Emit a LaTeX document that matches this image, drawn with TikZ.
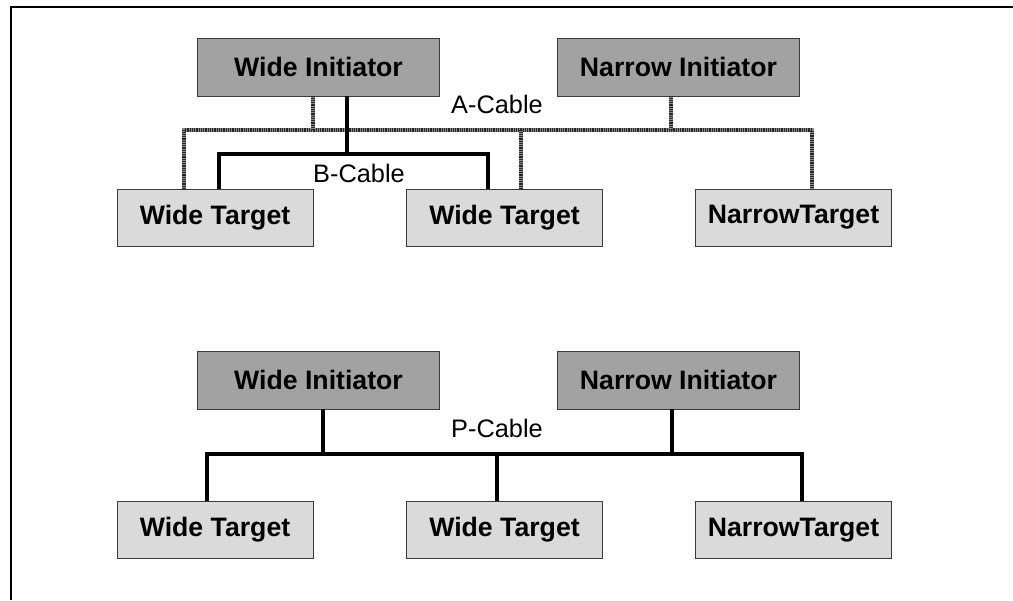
\documentclass[tikz,border=0pt]{standalone}
\usepackage{fontspec}
\setmainfont{Liberation Sans}
\usepackage{tikz}
\usetikzlibrary{calc,positioning}
\definecolor{InitFill}{HTML}{A2A2A2}
\definecolor{TargFill}{HTML}{DADADA}
\definecolor{BoxEdge}{HTML}{3A3A3A}
\tikzset{
  every node/.style={font=\fontsize{19}{22}\selectfont},
  initbox/.style={draw=BoxEdge,line width=0.7pt,fill=InitFill,inner sep=0pt,
    minimum width=182pt,minimum height=43.5pt,font=\fontsize{20}{24}\selectfont\bfseries},
  targbox/.style={draw=BoxEdge,line width=0.7pt,fill=TargFill,inner sep=0pt,
    minimum width=147pt,minimum height=42.75pt,font=\fontsize{20}{24}\selectfont\bfseries},
  acable/.style={line width=3pt,draw=black!45,
    postaction={draw=black!85,line width=3pt,dash pattern=on 0.45pt off 0.9pt}},
  bcable/.style={line width=3pt,draw=black},
}

\begin{document}
\begin{tikzpicture}[x=0.75pt,y=-0.75pt]
  \useasboundingbox (0,0) rectangle (1013,600);
  % --- frame (top and left edges) ---
  \draw[line width=1.4pt] (1013,7) -- (11,7) -- (11,600);
  % --- upper picture: A-cable and B-cable ---
  \node[initbox] (wia) at (318.5,67) {Wide Initiator};
  \node[initbox] (nia) at (678.5,67) {Narrow Initiator};
  \node[targbox] (wta) at (215,217.5) {Wide Target};
  \node[targbox] (wtb) at (504.5,217.5) {Wide Target};
  \node[targbox] (nta) at (793.5,217.5) {NarrowTarget};
  \coordinate (abusL) at (184,130);
  \coordinate (abusR) at (812,130);
  \coordinate (bbus) at (0,154);
  \draw[acable] (wta.north -| abusL) |- (abusR) -- (nta.north -| abusR);
  \draw[acable] ([xshift=-4.5pt]wia.south) -- ([xshift=-4.5pt]wia.south |- abusL);
  \draw[acable] ([xshift=-5.6pt]nia.south) -- ([xshift=-5.6pt]nia.south |- abusL);
  \draw[acable] ([xshift=12.4pt]wtb.north) -- ([xshift=12.4pt]wtb.north |- abusL);
  \draw[bcable] ([xshift=21.4pt]wia.south) -- ([xshift=21.4pt]wia.south |- bbus);
  \draw[bcable] ([xshift=3pt]wta.north) |- ([xshift=-12.4pt]wtb.north |- bbus)
    -- ([xshift=-12.4pt]wtb.north);
  \node (alabel) at (497,104) {A-Cable};
  \node (blabel) at (359,173) {B-Cable};
  % --- lower picture: P-cable ---
  \node[initbox] (wic) at (318.5,380) {Wide Initiator};
  \node[initbox] (nic) at (678.5,380) {Narrow Initiator};
  \node[targbox] (wtc) at (215,530) {Wide Target};
  \node[targbox] (wtd) at (504.5,530) {Wide Target};
  \node[targbox] (ntc) at (793.5,530) {NarrowTarget};
  \coordinate (pbus) at (0,454);
  \draw[bcable] ([xshift=-6pt]wtc.north) |- ([xshift=6.4pt]ntc.north |- pbus)
    -- ([xshift=6.4pt]ntc.north);
  \draw[bcable] ([xshift=3.4pt]wic.south) -- ([xshift=3.4pt]wic.south |- pbus);
  \draw[bcable] ([xshift=-4.9pt]nic.south) -- ([xshift=-4.9pt]nic.south |- pbus);
  \draw[bcable] ([xshift=-5.6pt]wtd.north) -- ([xshift=-5.6pt]wtd.north |- pbus);
  \node (plabel) at (497,428) {P-Cable};
\end{tikzpicture}
\end{document}
